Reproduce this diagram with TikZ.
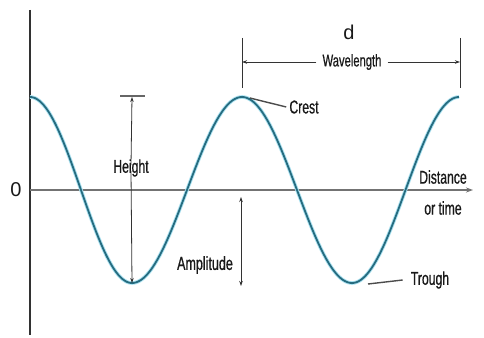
\documentclass[tikz,border=0pt]{standalone}
\usepackage{fontspec}
\setmainfont[FakeStretch=0.66,FakeBold=0.6]{Liberation Sans}
\newfontfamily\plainfont{Liberation Sans}
\usetikzlibrary{arrows.meta}
\definecolor{wavecol}{RGB}{38,108,128}
\definecolor{glowcol}{RGB}{170,225,240}
\definecolor{axiscol}{RGB}{50,50,50}
\tikzset{
  lbl/.style={inner sep=0pt, text=black!90, font=\fontsize{18.5}{18.5}\selectfont},
  dim/.style={draw=black!80, line width=0.8pt},
  dimarrow/.style={dim, -{Stealth[length=5pt,width=3.5pt]}},
  axis/.style={draw=axiscol, line width=1.4pt},
  leader/.style={draw=black!70, line width=1.4pt}
}
\newcommand{\wavepath}{%
  plot[domain=30:132, samples=60, smooth] (\x, {190 - 93*cos(1.764706*(\x-30))})
  -- plot[domain=132:242, samples=60, smooth] (\x, {190 + 93*cos(1.636364*(\x-132))})
  -- plot[domain=242:352, samples=60, smooth] (\x, {190 - 93*cos(1.636364*(\x-242))})
  -- plot[domain=352:459, samples=60, smooth] (\x, {190 + 93*cos(1.682243*(\x-352))})}
\begin{document}
\begin{tikzpicture}[x=1pt,y=-1pt]
\useasboundingbox (0,0) rectangle (484,337);
\fill[white] (0,0) rectangle (484,337);
% axes
\coordinate (vtop) at (30,10);
\coordinate (vbot) at (30,335);
\coordinate (origin) at (30,190);
\coordinate (xend) at (473,190);
\draw[axis] (vtop) -- (vbot);
\draw[axis, draw=black!55, line width=1.8pt, -{Stealth[length=7pt,width=5pt]}] (origin) -- (xend);
% wave
\draw[glowcol, line width=3.6pt, line join=round] \wavepath;
\draw[wavecol, line width=1.8pt, line join=round] \wavepath;
% labels
\node[lbl, font=\plainfont\fontsize{20}{20}\selectfont] (zero) at (16,190) {0};
\node[lbl, font=\plainfont\fontsize{20}{20}\selectfont] (d) at (349,32) {d};
\node[lbl, font=\fontsize{17}{17}\selectfont] (wl) at (352,62) {Wavelength};
\node[lbl] (crest) at (304,107) {Crest};
\node[lbl] (height) at (131,168) {Height};
\node[lbl, font=\fontsize{19}{19}\selectfont] (amp) at (205,265) {Amplitude};
\node[lbl] (dist) at (443,177) {Distance};
\node[lbl] (ortime) at (443,208) {or time};
\node[lbl] (trough) at (430,280) {Trough};
% wavelength dimension
\coordinate (lt1) at (242,38); \coordinate (lt2) at (242,88);
\coordinate (rt1) at (460,38); \coordinate (rt2) at (460,88);
\coordinate (la) at (242,62); \coordinate (ra) at (460,62);
\draw[dim] (lt1) -- (lt2);
\draw[dim] (rt1) -- (rt2);
\draw[dimarrow] ([xshift=-6pt]wl.west) -- (la);
\draw[dimarrow] ([xshift=6pt]wl.east) -- (ra);
% height
\coordinate (hb1) at (120,96); \coordinate (hb2) at (145,96);
\coordinate (htop) at (132,97); \coordinate (hbot) at (132,283);
\draw[dim, line width=1.2pt, draw=black!60] (hb1) -- (hb2);
\draw[dimarrow] ([yshift=-6pt]height.north) -- (htop);
\draw[dimarrow] ([yshift=6pt]height.south) -- (hbot);
% amplitude
\coordinate (at) at (241,197); \coordinate (ab) at (241,286);
\draw[dim, {Stealth[length=5pt,width=3.5pt]}-{Stealth[length=5pt,width=3.5pt]}] (at) -- (ab);
% leaders
\coordinate (crestpt) at (250,98);
\coordinate (troughpt) at (368,284);
\draw[leader] (crestpt) -- ([xshift=-3pt]crest.west);
\draw[leader] (troughpt) -- ([xshift=-8pt]trough.west);
\end{tikzpicture}
\end{document}
